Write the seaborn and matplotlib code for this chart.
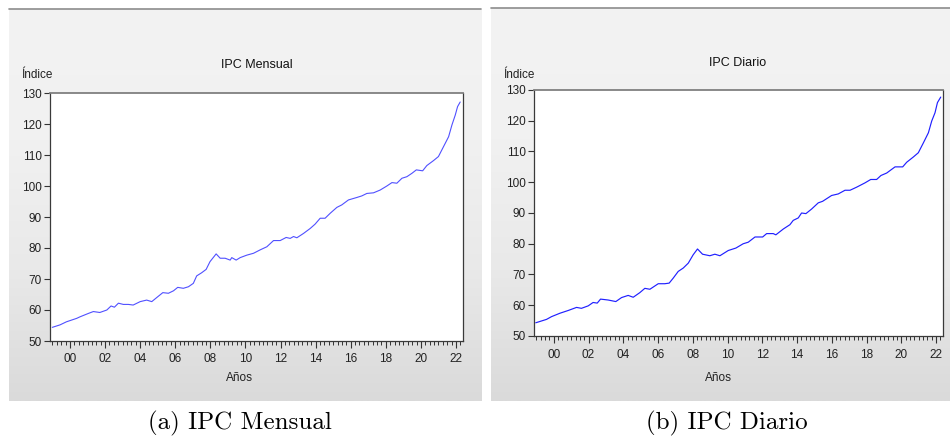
import numpy as np
import matplotlib
matplotlib.use("Agg")
import matplotlib.pyplot as plt
from matplotlib.ticker import FixedLocator
import seaborn as sns

# valores (anio decimal, indice)
anios_mensual = [1998.99, 1999.43, 1999.8, 2000.38, 2000.57, 2001.05, 2001.33, 2001.7, 2002.1, 2002.34,
                 2002.53, 2002.76, 2003.04, 2003.33, 2003.6, 2004.0, 2004.37, 2004.66, 2004.94, 2005.29,
                 2005.61, 2005.9, 2006.14, 2006.46, 2006.75, 2007.03, 2007.22, 2007.5, 2007.76, 2007.98,
                 2008.33, 2008.56, 2008.84, 2009.13, 2009.22, 2009.47, 2009.7, 2010.08, 2010.46, 2010.84,
                 2011.22, 2011.6, 2011.98, 2012.32, 2012.55, 2012.74, 2012.93, 2013.31, 2013.69, 2013.97,
                 2014.26, 2014.54, 2014.83, 2015.21, 2015.49, 2015.87, 2016.35, 2016.63, 2016.92, 2017.3,
                 2017.68, 2018.06, 2018.35, 2018.63, 2018.92, 2019.2, 2019.49, 2019.74, 2020.1, 2020.34,
                 2020.72, 2021.0, 2021.29, 2021.58, 2021.77, 2021.96, 2022.09, 2022.24]
ipc_mensual = [54.4, 55.2, 56.2, 57.3, 57.8, 58.9, 59.5, 59.2, 60.0, 61.3,
               60.9, 62.2, 61.8, 61.8, 61.6, 62.7, 63.2, 62.7, 64.0, 65.6,
               65.4, 66.2, 67.3, 67.0, 67.5, 68.6, 71.0, 72.0, 73.1, 75.6,
               78.1, 76.7, 76.7, 76.1, 76.9, 76.1, 76.9, 77.7, 78.3, 79.4,
               80.4, 82.4, 82.4, 83.4, 83.1, 83.7, 83.3, 84.7, 86.3, 87.7,
               89.6, 89.6, 91.2, 93.1, 93.9, 95.5, 96.3, 96.8, 97.6, 97.8,
               98.7, 100.0, 101.1, 100.9, 102.5, 103.0, 104.1, 105.2, 104.9, 106.6,
               108.2, 109.5, 112.7, 115.9, 119.7, 122.9, 125.6, 127.1]

anios_diario = [1998.96, 1999.58, 1999.87, 2000.35, 2000.83, 2001.31, 2001.59, 2001.98, 2002.26, 2002.5,
                2002.69, 2003.13, 2003.57, 2003.9, 2004.28, 2004.57, 2004.95, 2005.24, 2005.53, 2006.01,
                2006.39, 2006.64, 2006.87, 2007.16, 2007.45, 2007.74, 2008.02, 2008.27, 2008.56, 2008.98,
                2009.27, 2009.56, 2010.04, 2010.48, 2010.9, 2011.19, 2011.58, 2012.02, 2012.25, 2012.63,
                2012.78, 2013.21, 2013.59, 2013.78, 2014.07, 2014.26, 2014.51, 2014.84, 2015.22, 2015.47,
                2015.99, 2016.37, 2016.76, 2017.05, 2017.43, 2017.91, 2018.24, 2018.58, 2018.83, 2019.16,
                2019.64, 2020.08, 2020.31, 2020.69, 2020.98, 2021.27, 2021.56, 2021.75, 2021.94, 2022.08,
                2022.27]
ipc_diario = [54.3, 55.4, 56.3, 57.4, 58.3, 59.3, 59.0, 59.8, 60.9, 60.7,
              62.0, 61.7, 61.2, 62.5, 63.2, 62.6, 64.1, 65.5, 65.2, 67.0,
              67.0, 67.2, 68.8, 71.0, 72.1, 73.7, 76.4, 78.3, 76.6, 76.1,
              76.6, 76.1, 77.8, 78.6, 80.0, 80.5, 82.2, 82.2, 83.3, 83.3,
              82.9, 84.8, 86.2, 87.6, 88.4, 90.0, 89.8, 91.3, 93.3, 93.8,
              95.7, 96.2, 97.4, 97.4, 98.4, 99.8, 100.9, 100.9, 102.2, 103.0,
              105.0, 105.0, 106.5, 108.2, 109.6, 112.8, 116.1, 119.9, 122.6, 125.9,
              127.7]

y_ticks = [50, 60, 70, 80, 90, 100, 110, 120, 130]
x_label_years = list(range(2000, 2023, 2))
x_labels = ["00", "02", "04", "06", "08", "10", "12", "14", "16", "18", "20", "22"]

sns.set_theme(style="ticks")
plt.rcParams["font.family"] = ["Liberation Sans", "DejaVu Sans"]

W, H = 950, 438
fig = plt.figure(figsize=(W / 100, H / 100), dpi=100)


def px(x0, y0, x1, y1):
    # rectangulo en pixeles (desde arriba) -> coordenadas de figura
    return [x0 / W, 1 - y1 / H, (x1 - x0) / W, (y1 - y0) / H]


# fondos grises con degradado (estilo EViews)
grad = np.linspace(0, 1, 256).reshape(-1, 1)
cmap_bg = matplotlib.colors.LinearSegmentedColormap.from_list(
    "g", ["#f3f3f3", "#f1f1f1", "#e9e9e9", "#dadada"])
for x0, x1, ytop in [(9, 481, 9), (491, 950, 8)]:
    bg = fig.add_axes(px(x0, ytop, x1, 401), zorder=-5)
    bg.imshow(grad, aspect="auto", cmap=cmap_bg, extent=[0, 1, 0, 1], origin="upper")
    bg.set_xlim(0, 1)
    bg.set_ylim(0, 1)
    bg.axis("off")
    bg.plot([0, 1], [1, 1], color="#8c8c8c", lw=1.2, clip_on=False)

panels = [
    dict(rect=px(50, 93, 463, 341), x=anios_mensual, y=ipc_mensual, color="#5050ff", lw=0.8,
         title="IPC Mensual", tx=257, ty=65, ix=21, ax_x=239, cx=240, cap="(a) IPC Mensual"),
    dict(rect=px(534, 90, 943, 336), x=anios_diario, y=ipc_diario, color="#2020ff", lw=0.85,
         title="IPC Diario", tx=738, ty=63, ix=503, ax_x=718, cx=727, cap="(b) IPC Diario"),
]

for p in panels:
    ax = fig.add_axes(p["rect"])
    ax.set_facecolor("white")
    sns.lineplot(x=p["x"], y=p["y"], ax=ax, color=p["color"], linewidth=p["lw"])
    ax.set_xlim(1998.86, 2022.40)
    ax.set_ylim(50, 130)
    ax.set_yticks(y_ticks)
    ax.set_yticklabels([str(v) for v in y_ticks])
    ax.xaxis.set_major_locator(FixedLocator(x_label_years))
    ax.set_xticklabels(x_labels)
    ax.xaxis.set_minor_locator(FixedLocator(np.arange(1999, 2022.5, 0.25)))
    ax.tick_params(axis="both", which="major", direction="out", length=4, width=0.8,
                   color="#333333", labelsize=8.5, labelcolor="#222222", pad=2)
    ax.tick_params(axis="x", which="major", length=5, pad=4)
    ax.tick_params(axis="x", which="minor", direction="out", length=3, width=0.7, color="#333333")
    for s in ax.spines.values():
        s.set_color("#3a3a3a")
        s.set_linewidth(0.9)
    ax.spines["top"].set_color("#808080")
    ax.spines["top"].set_linewidth(1.3)
    ax.set_xlabel("")
    ax.set_ylabel("")

    fig.text(p["tx"] / W, 1 - p["ty"] / H, p["title"], ha="center", va="center",
             fontsize=9, color="#111111")
    fig.text(p["ix"] / W, 1 - 75 / H, "Índice", ha="left", va="center",
             fontsize=8.5, color="#222222")
    fig.text(p["ax_x"] / W, 1 - 378 / H, "Años", ha="center", va="center",
             fontsize=8.5, color="#222222")
    fig.text(p["cx"] / W, 1 - 423 / H, p["cap"], ha="center", va="center",
             fontsize=18, family="cmr10", color="black")

fig.savefig("out.png", dpi=100, facecolor="white")
